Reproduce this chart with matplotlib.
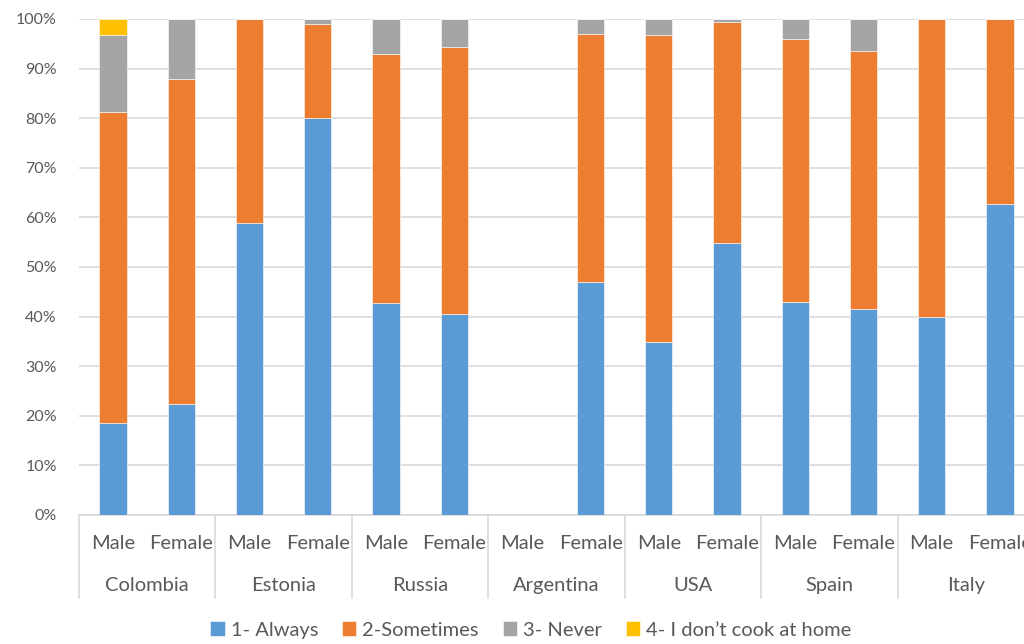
import matplotlib.pyplot as plt
import numpy as np

plt.rcParams['font.family'] = ['Lato', 'DejaVu Sans']

countries = ["Colombia", "Estonia", "Russia", "Argentina", "USA", "Spain", "Italy"]
genders = ["Male", "Female"]

# Share of answers (%) per bar, order: Colombia M/F, Estonia M/F, ... Italy M/F
always = [18.6, 22.3, 58.8, 80.0, 42.7, 40.6, 0.0, 46.9, 34.9, 54.9, 42.9, 41.5, 40.0, 62.8]
sometimes = [62.6, 65.7, 41.2, 18.9, 50.2, 53.7, 0.0, 50.0, 61.9, 44.4, 53.1, 52.1, 60.0, 37.2]
never = [15.6, 12.0, 0.0, 1.1, 7.1, 5.7, 0.0, 3.1, 3.2, 0.7, 4.0, 6.4, 0.0, 0.0]
no_cook = [3.2, 0.0, 0.0, 0.0, 0.0, 0.0, 0.0, 0.0, 0.0, 0.0, 0.0, 0.0, 0.0, 0.0]

series = [
    ("1- Always", always, "#5B9BD5"),
    ("2-Sometimes", sometimes, "#ED7D31"),
    ("3- Never", never, "#A5A5A5"),
    ("4- I don\u2019t cook at home", no_cook, "#FFC000"),
]

fig = plt.figure(figsize=(10.24, 6.44), dpi=100)
ax = fig.add_axes([79 / 1024, 1 - 515 / 644, 955 / 1024, 496 / 644])

x = np.arange(len(always))
bottom = np.zeros(len(x))
for name, vals, col in series:
    vals = np.array(vals) / 100.0
    ax.bar(x, vals, width=0.4, bottom=bottom, color=col, label=name,
           edgecolor="white", linewidth=0.4, zorder=3)
    bottom += vals

ax.set_xlim(-0.5, len(x) - 0.5)
ax.set_ylim(0, 1)
ax.set_yticks(np.arange(0, 1.01, 0.1))
ax.set_yticklabels(["{:d}%".format(int(round(v * 100))) for v in np.arange(0, 1.01, 0.1)])
ax.yaxis.grid(True, color="#d9d9d9", linewidth=1.2, zorder=0)
ax.tick_params(axis="y", length=0, pad=16, labelsize=11.5, labelcolor="#595959")
ax.set_xticks([])
for side in ["top", "right", "left"]:
    ax.spines[side].set_visible(False)
ax.spines["bottom"].set_color("#d9d9d9")
ax.spines["bottom"].set_linewidth(1.2)

# two-level category axis
trans = ax.get_xaxis_transform()
for i in range(len(countries) + 1):
    xd = 2 * i - 0.5
    ax.plot([xd, xd], [0, -0.167], transform=trans, color="#d9d9d9",
            linewidth=1.2, clip_on=False)
for i, c in enumerate(countries):
    for j, g in enumerate(genders):
        ax.text(2 * i + j, -0.057, g, transform=trans, ha="center", va="center",
                fontsize=14.5, color="#595959")
    ax.text(2 * i + 0.5, -0.142, c, transform=trans, ha="center", va="center",
            fontsize=14.5, color="#595959")

fig.legend(loc="center", bbox_to_anchor=(531 / 1024, 1 - 630 / 644), ncol=4,
           frameon=False, fontsize=14.5, handlelength=0.7, handleheight=0.7,
           handletextpad=0.3, columnspacing=1.2, labelcolor="#595959")

fig.savefig("out.png", dpi=100)
